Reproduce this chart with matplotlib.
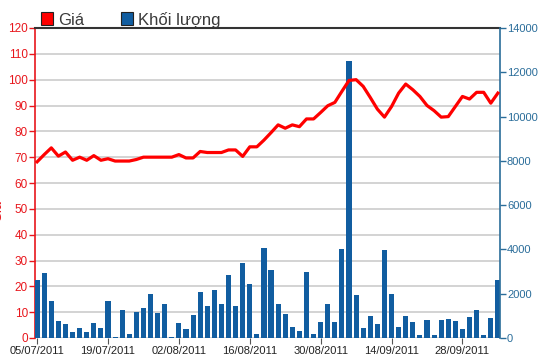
import matplotlib
matplotlib.use("Agg")
import matplotlib.pyplot as plt
from matplotlib.patches import Rectangle

plt.rcParams['font.family'] = ['Liberation Sans', 'DejaVu Sans']

# du lieu doc tu hinh
gia = [68.2, 71.0, 73.6, 70.4, 72.0, 68.8, 70.0, 68.8, 70.6, 68.8,
       69.4, 68.5, 68.5, 68.5, 69.1, 70.0, 70.0, 70.0, 70.0, 70.0,
       71.0, 69.7, 69.7, 72.2, 71.8, 71.8, 71.8, 72.8, 72.8, 70.3,
       74.0, 74.0, 76.6, 79.5, 82.5, 81.2, 82.5, 81.8, 84.8, 84.8,
       87.3, 89.9, 91.2, 95.5, 99.7, 100.0, 97.4, 93.1, 88.6, 85.5,
       89.6, 94.8, 98.3, 96.1, 93.5, 90.0, 88.0, 85.5, 85.7, 89.6,
       93.5, 92.5, 95.1, 95.1, 90.9, 94.8]
khoi_luong = [2625, 2917, 1690, 760, 640, 290, 470, 290, 700, 470,
              1690, 60, 1280, 175, 1170, 1340, 1980, 1110, 1520, 60,
              700, 410, 1050, 2100, 1460, 2160, 1520, 2860, 1460, 3380,
              2450, 175, 4080, 3090, 1550, 1100, 480, 320, 2970, 200,
              720, 1550, 720, 4030, 12500, 1930, 440, 980, 650, 3970,
              2000, 480, 980, 720, 150, 830, 150, 830, 875, 780,
              420, 935, 1270, 150, 890, 2620]
nhan_ngay = ['05/07/2011', '19/07/2011', '02/08/2011', '16/08/2011',
             '30/08/2011', '14/09/2011', '28/09/2011']
vi_tri_ngay = [0, 10, 20, 30, 40, 50, 60]
gia_ticks = list(range(0, 121, 10))
kl_ticks = list(range(0, 14001, 2000))

do = '#e8161c'
xanh = '#2a6d9a'
xanh_cot = '#115da0'

fig = plt.figure(figsize=(5.5, 3.64), dpi=100)
ax = fig.add_axes([35/550, 26/364, 465/550, 310/364])
x = list(range(len(gia)))

# truc gia (trai) + luoi
ax.set_ylim(0, 120)
ax.set_xlim(-0.3, len(gia) - 0.7)
ax.set_yticks(gia_ticks)
ax.tick_params(axis='y', colors=do, labelsize=8.5, length=4, width=1, pad=1)
ax.grid(axis='y', color='#cccccc', linewidth=1.2)
ax.set_axisbelow(True)
ax.set_xticks(vi_tri_ngay)
ax.set_xticklabels(nhan_ngay)
ax.tick_params(axis='x', colors='#555555', labelcolor='#222222', labelsize=8, length=4, pad=2)
ax.spines['left'].set_color(do)
ax.spines['left'].set_linewidth(1.2)
ax.spines['right'].set_visible(False)
ax.spines['bottom'].set_visible(False)
ax.spines['top'].set_color('#333333')
ax.spines['top'].set_linewidth(1.5)

# truc khoi luong (phai)
ax2 = ax.twinx()
ax2.bar(x, khoi_luong, width=0.72, color=xanh_cot, zorder=2)
ax2.set_ylim(0, 14000)
ax2.set_yticks(kl_ticks)
ax2.tick_params(axis='y', colors=xanh, labelsize=8, length=4, width=1, pad=1)
for s in ['left', 'top', 'bottom']:
    ax2.spines[s].set_visible(False)
ax2.spines['right'].set_color(xanh)
ax2.spines['right'].set_linewidth(1.2)

# duong gia ve tren cung
ax3 = fig.add_axes(ax.get_position(), sharex=ax, sharey=ax)
ax3.plot(x, gia, color='#ff0000', linewidth=2.3, solid_joinstyle='round')
ax3.axis('off')
ax3.patch.set_visible(False)

# chu thich
fig.patches.append(Rectangle((41/550, 1 - 25/364), 12/550, 13/364, transform=fig.transFigure,
                             facecolor='#ff0000', edgecolor='#222222', linewidth=0.8))
fig.text(58/550, 1 - 25/364, 'Giá', fontsize=12, color='#3a3a3a', va='baseline')
fig.patches.append(Rectangle((121/550, 1 - 25/364), 12/550, 13/364, transform=fig.transFigure,
                             facecolor=xanh_cot, edgecolor='#222222', linewidth=0.8))
fig.text(138/550, 1 - 25/364, 'Khối lượng', fontsize=12, color='#3a3a3a', va='baseline')

fig.text(-0.018, 0.42, 'Giá', rotation=90, color=do, fontsize=10, va='center')

fig.savefig('out.png', dpi=100)
